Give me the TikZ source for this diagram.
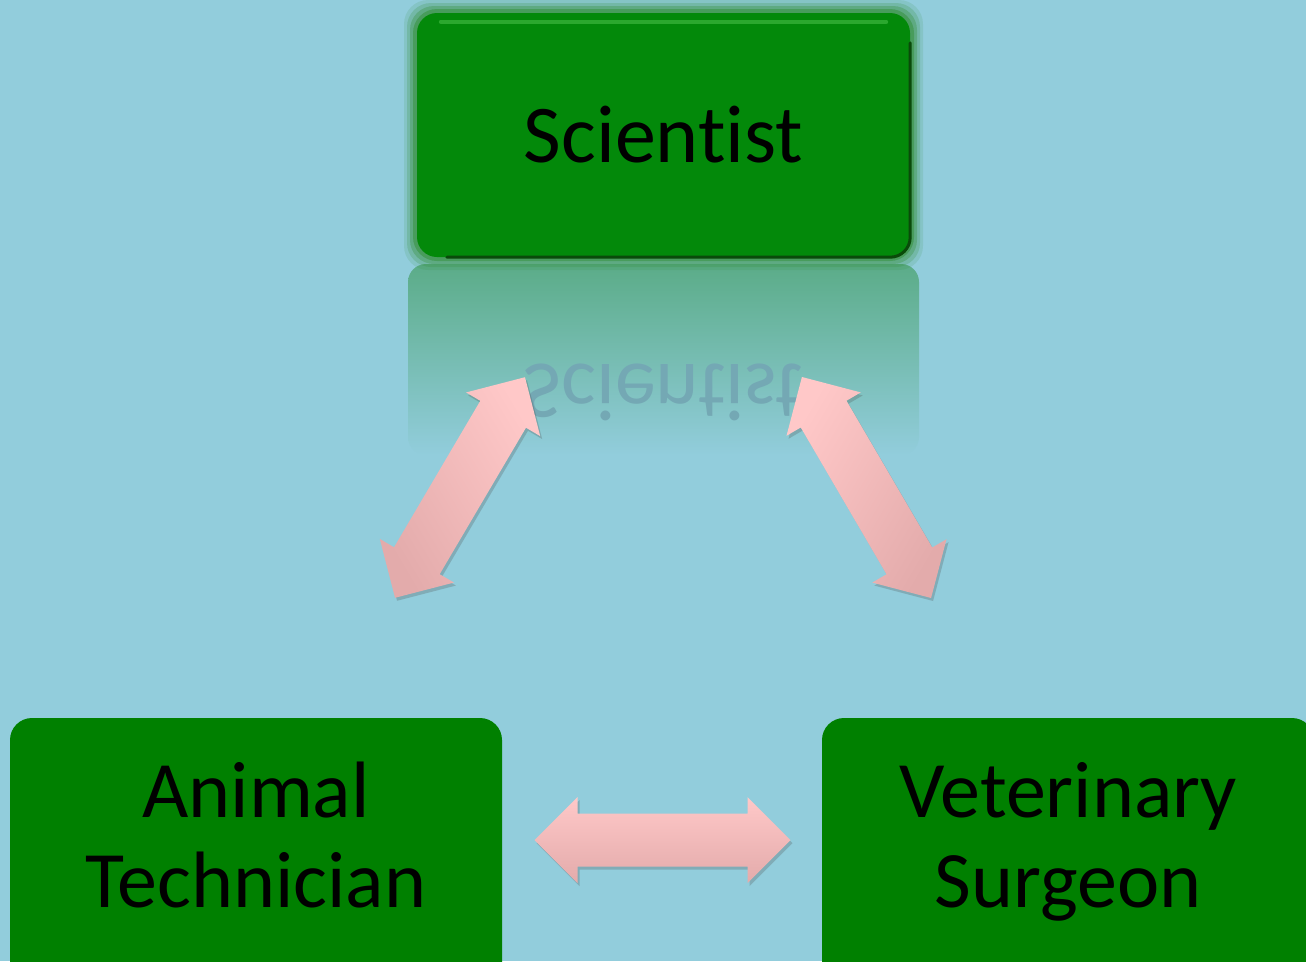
\documentclass[tikz,border=0pt]{standalone}
\usepackage{fontspec}
\usepackage{graphicx}
\setmainfont{Carlito}[RawFeature={-liga;-clig;-dlig}]
\usetikzlibrary{shadows}
\definecolor{Backdrop}{HTML}{92CDDC}
\definecolor{LeafGreen}{HTML}{008000}
\definecolor{SciGreen}{HTML}{03890A}
\definecolor{GlowGreen}{HTML}{2E8B2E}
\definecolor{RimGreen}{HTML}{0A4A0A}
\definecolor{ShineGreen}{HTML}{4CC24C}
\definecolor{MirrorGreen}{HTML}{5BAC88}
\definecolor{MirrorText}{HTML}{74A8B4}
\definecolor{BlushTop}{HTML}{FFC8C8}
\definecolor{BlushLow}{HTML}{E3ABAB}
\tikzset{dblarrow/.pic={\shade[top color=BlushTop,bottom color=BlushLow,shading angle=#1,drop shadow={shadow xshift=2pt,shadow yshift=-3pt,opacity=.25,fill=black!70}] (-128,0)--(-85,-43)--(-85,-26.5)--(85,-26.5)--(85,-43)--(128,0)--(85,43)--(85,26.5)--(-85,26.5)--(-85,43)--cycle;}}

\begin{document}
\begin{tikzpicture}[x=1pt,y=-1pt,box/.style={rectangle,text=black,align=center,inner sep=0pt},
scibox/.style={box,fill=SciGreen,rounded corners=20pt,minimum width=493pt,minimum height=244pt,font=\fontsize{82}{90}\selectfont},
staffbox/.style={box,fill=LeafGreen,rounded corners=22pt,minimum width=492pt,minimum height=272pt,font=\fontsize{80}{90}\selectfont,text depth=38pt}]
\fill[Backdrop] (0,0) rectangle (1306,961); \useasboundingbox (0,0) rectangle (1306,961); \clip (0,0) rectangle (1306,961);
\shade[top color=MirrorGreen,bottom color=Backdrop,rounded corners=18pt] (408,264) rectangle (919,455);
\node[text=MirrorText,font=\fontsize{82}{90}\selectfont] (sciecho) at (663.5,392) {\scalebox{1}[-1]{Scientist}};
\foreach \g/\o in {13/.12,10/.2,7/.3,4/.45} \fill[GlowGreen,opacity=\o,rounded corners=24pt] ({417-\g},{13-\g}) rectangle ({910+\g},{257+\g});
\node[scibox] (sci) at (663.5,135) {Scientist};
\draw[RimGreen,line width=3pt,line cap=round,rounded corners=20pt] ([yshift=-30pt]sci.north east) -- (sci.south east) -- ([xshift=30pt]sci.south west);
\draw[ShineGreen,line width=4pt,line cap=round,opacity=.55] ([xshift=24pt,yshift=-9pt]sci.north west) -- ([xshift=-24pt,yshift=-9pt]sci.north east);
\node[staffbox] (tech) at (256,854) {Animal\\Technician};
\node[staffbox] (vet) at (1068,854) {Veterinary\\Surgeon};
\pic[rotate=59.5] (linkL) at (460,487.5) {dblarrow=-59.5};
\pic[rotate=-59.7] (linkR) at (866.5,487.5) {dblarrow=59.7};
\pic (linkB) at (662.5,840) {dblarrow=0};
\end{tikzpicture}
\end{document}
